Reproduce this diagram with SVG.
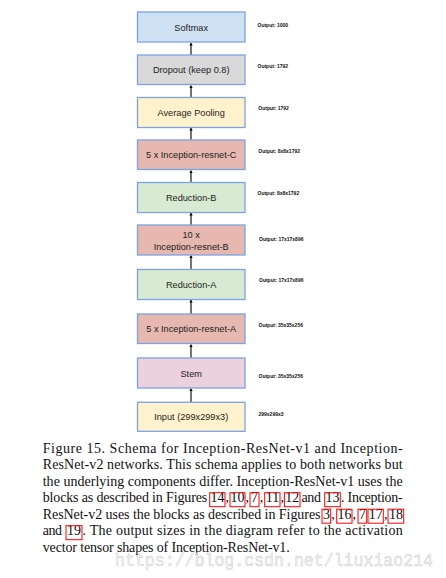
<svg xmlns="http://www.w3.org/2000/svg" width="446" height="578" viewBox="0 0 446 578">
<defs>
<marker id="ah" markerWidth="6" markerHeight="6" refX="3" refY="3" orient="auto" markerUnits="userSpaceOnUse">
<path d="M0.5,1.3 L3,3 L0.5,4.7 Z" fill="#000"/>
</marker>
<style>
.box{stroke:#7aa3e5;stroke-width:1.3}
.lbl{font-family:"Liberation Sans",Arial,sans-serif;font-size:9.2px;fill:#222;text-anchor:middle}
.out{font-family:"Liberation Sans",Arial,sans-serif;font-size:5px;font-weight:bold;fill:#111}
.cap{font-family:"Liberation Serif","Times New Roman",serif;font-size:14px;fill:#111}
.num{text-anchor:middle}
.ref{fill:none;stroke:#ff0000;stroke-width:1}
.edge{stroke:#000;stroke-width:1.1;fill:none;marker-end:url(#ah)}
.wm{font-family:"Liberation Mono","Courier New",monospace;font-size:18px;fill:#f4f4f4;stroke:#cfcfcf;stroke-width:0.5}
</style>
</defs>
<rect width="446" height="578" fill="#fff"/>

<g id="connectors">
<line class="edge" x1="191" y1="55" x2="191" y2="43"/>
<line class="edge" x1="191" y1="97.5" x2="191" y2="85.5"/>
<line class="edge" x1="191" y1="140" x2="191" y2="128"/>
<line class="edge" x1="191" y1="182.5" x2="191" y2="170.5"/>
<line class="edge" x1="191" y1="225" x2="191" y2="213"/>
<line class="edge" x1="191" y1="269.5" x2="191" y2="255.5"/>
<line class="edge" x1="191" y1="314" x2="191" y2="300"/>
<line class="edge" x1="191" y1="358" x2="191" y2="344.5"/>
<line class="edge" x1="191" y1="402" x2="191" y2="388.5"/>
</g>

<g id="softmax"><rect class="box" x="137.5" y="12" width="107.5" height="30" fill="#cfe2f3"/><text class="lbl" x="191.2" y="30.5">Softmax</text><text class="out" x="257.5" y="26.8">Output: 1000</text></g>
<g id="dropout"><rect class="box" x="137.5" y="55" width="107.5" height="29.5" fill="#d9d9d9"/><text class="lbl" x="191.2" y="73.3">Dropout (keep 0.8)</text><text class="out" x="257.5" y="67.8">Output: 1792</text></g>
<g id="avgpool"><rect class="box" x="137.5" y="97.5" width="107.5" height="30" fill="#fff2cc"/><text class="lbl" x="191.2" y="116">Average Pooling</text><text class="out" x="258.3" y="109.5">Output: 1792</text></g>
<g id="incC"><rect class="box" x="137.5" y="140" width="107.5" height="29.5" fill="#e6b8af"/><text class="lbl" x="191.2" y="158.3">5 x Inception-resnet-C</text><text class="out" x="258.3" y="152.8">Output: 8x8x1792</text></g>
<g id="redB"><rect class="box" x="137.5" y="182.5" width="107.5" height="30" fill="#d9ead3"/><text class="lbl" x="191.2" y="201">Reduction-B</text><text class="out" x="257.5" y="194.5">Output: 8x8x1792</text></g>
<g id="incB"><rect class="box" x="137.5" y="225" width="107.5" height="30" fill="#e6b8af"/><text class="lbl" x="191.2" y="238.3">10 x</text><text class="lbl" x="191.2" y="249.5">Inception-resnet-B</text><text class="out" x="259" y="240.8">Output: 17x17x896</text></g>
<g id="redA"><rect class="box" x="137.5" y="269.5" width="107.5" height="30" fill="#d9ead3"/><text class="lbl" x="191.2" y="288">Reduction-A</text><text class="out" x="259" y="281.8">Output: 17x17x896</text></g>
<g id="incA"><rect class="box" x="137.5" y="314" width="107.5" height="29.5" fill="#e6b8af"/><text class="lbl" x="191.2" y="332.3">5 x Inception-resnet-A</text><text class="out" x="258.5" y="326.5">Output: 35x35x256</text></g>
<g id="stem"><rect class="box" x="137.5" y="358" width="107.5" height="30" fill="#ead1dc"/><text class="lbl" x="191.2" y="376.5">Stem</text><text class="out" x="258.5" y="377.8">Output: 35x35x256</text></g>
<g id="input"><rect class="box" x="137.5" y="402.3" width="107.5" height="29" fill="#fff2cc"/><text class="lbl" x="191.2" y="420.3">Input (299x299x3)</text><text class="out" x="258.5" y="415.8">299x299x3</text></g>

<g id="caption">
<text class="cap" x="42.7" y="452.7" textLength="360" lengthAdjust="spacing">Figure 15. Schema for Inception-ResNet-v1 and Inception-</text>
<text class="cap" x="42.7" y="469.2" textLength="360" lengthAdjust="spacing">ResNet-v2 networks. This schema applies to both networks but</text>
<text class="cap" x="42.7" y="485.7" textLength="360" lengthAdjust="spacing">the underlying components differ. Inception-ResNet-v1 uses the</text>

<text class="cap" x="42.7" y="502.2" textLength="164.5" lengthAdjust="spacing">blocks as described in Figures</text>
<text class="cap num" x="217.4" y="502.2">14</text><text class="cap" x="225.6" y="502.2">,</text>
<text class="cap num" x="237.6" y="502.2">10</text><text class="cap" x="245.6" y="502.2">,</text>
<text class="cap num" x="254.6" y="502.2">7</text><text class="cap" x="259.8" y="502.2">,</text>
<text class="cap num" x="272.4" y="502.2">11</text><text class="cap" x="280.6" y="502.2">,</text>
<text class="cap num" x="292.2" y="502.2">12</text>
<text class="cap" x="301.4" y="502.2" textLength="19.6" lengthAdjust="spacing">and</text>
<text class="cap num" x="332.5" y="502.2">13</text>
<text class="cap" x="341" y="502.2" textLength="61.7" lengthAdjust="spacing">. Inception-</text>

<text class="cap" x="42.7" y="518.7" textLength="277.8" lengthAdjust="spacing">ResNet-v2 uses the blocks as described in Figures</text>
<text class="cap num" x="326.4" y="518.7">3</text><text class="cap" x="331.2" y="518.7">,</text>
<text class="cap num" x="344.4" y="518.7">16</text><text class="cap" x="352.6" y="518.7">,</text>
<text class="cap num" x="362.4" y="518.7">7</text>
<text class="cap num" x="375.7" y="518.7">17</text><text class="cap" x="384" y="518.7">,</text>
<text class="cap num" x="395.9" y="518.7">18</text>

<text class="cap" x="42.7" y="535.2" textLength="19.3" lengthAdjust="spacing">and</text>
<text class="cap num" x="74" y="535.2">19</text>
<text class="cap" x="82.5" y="535.2" textLength="320.2" lengthAdjust="spacing">. The output sizes in the diagram refer to the activation</text>
<text class="cap" x="42.7" y="551.7" textLength="247" lengthAdjust="spacing">vector tensor shapes of Inception-ResNet-v1.</text>

<rect class="ref" x="209.7" y="492.7" width="15.3" height="14"/>
<rect class="ref" x="230" y="492.7" width="15" height="14"/>
<rect class="ref" x="250" y="492.7" width="9" height="14"/>
<rect class="ref" x="264.7" y="492.7" width="15.3" height="14"/>
<rect class="ref" x="284.4" y="492.7" width="15.6" height="14"/>
<rect class="ref" x="324.7" y="492.7" width="15.6" height="14"/>
<rect class="ref" x="322" y="509.2" width="8.7" height="14"/>
<rect class="ref" x="336.7" y="509.2" width="15.3" height="14"/>
<rect class="ref" x="358" y="509.2" width="8.7" height="14"/>
<rect class="ref" x="368" y="509.2" width="15.3" height="14"/>
<rect class="ref" x="388" y="509.2" width="15.7" height="14"/>
<rect class="ref" x="66" y="525.7" width="16" height="14"/>
</g>

<text class="wm" x="115" y="566" textLength="318" lengthAdjust="spacingAndGlyphs">https://blog.csdn.net/liuxiao214</text>
</svg>
